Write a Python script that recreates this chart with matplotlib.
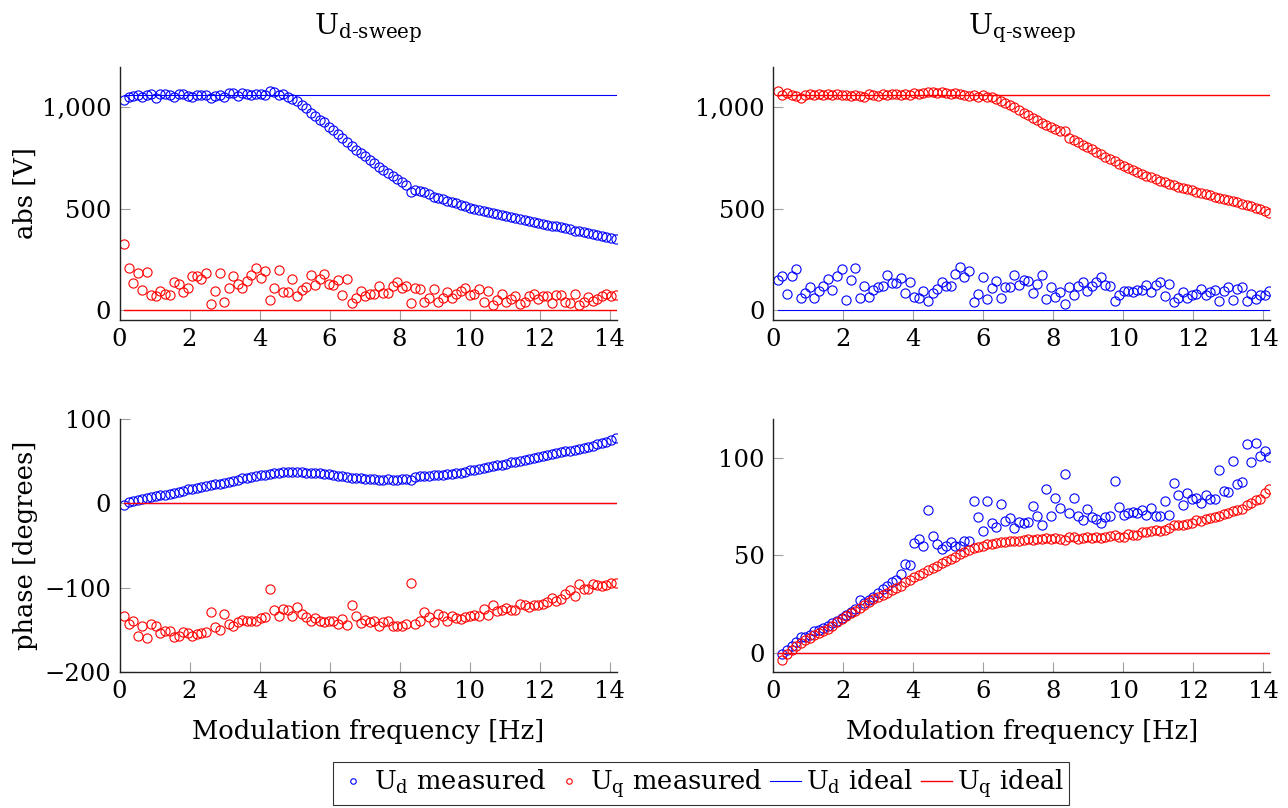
import numpy as np
import matplotlib
matplotlib.use('Agg')
import matplotlib.pyplot as plt
from matplotlib.ticker import FuncFormatter

plt.rcParams['font.family'] = ['DejaVu Serif']
plt.rcParams['mathtext.fontset'] = 'dejavuserif'

# modulation frequency grid of the sweep [Hz]
freq = np.arange(1, 110) * 0.13

UD_IDEAL_ABS = 1060
UQ_IDEAL_ABS = 1060

# d-sweep, abs [V]
d_abs_ud = [1035, 1050, 1058, 1062, 1052, 1060, 1066, 1045, 1066, 1068,
            1062, 1052, 1067, 1065, 1056, 1054, 1062, 1064, 1060, 1048,
            1058, 1060, 1050, 1072, 1070, 1056, 1072, 1068, 1060, 1068,
            1066, 1064, 1080, 1074, 1062, 1068, 1052, 1044, 1030, 1012,
            995, 975, 958, 940, 928, 905, 888, 870, 848, 828,
            810, 792, 775, 758, 742, 726, 708, 692, 677, 660,
            645, 630, 618, 582, 592, 588, 580, 572, 560, 554,
            547, 540, 534, 527, 520, 514, 502, 500, 494, 490,
            484, 478, 472, 467, 462, 458, 452, 448, 443, 438,
            434, 428, 422, 419, 415, 412, 408, 404, 400, 392,
            388, 385, 380, 376, 370, 365, 360, 355, 348]
d_abs_uq = [326, 206, 132, 184, 99, 186, 71, 67, 95, 79,
            75, 140, 127, 86, 107, 169, 169, 151, 181, 30,
            94, 181, 38, 107, 169, 127, 107, 143, 173, 209,
            156, 192, 49, 110, 197, 90, 90, 153, 69, 99,
            115, 173, 123, 153, 176, 127, 123, 148, 75, 151,
            33, 58, 95, 68, 80, 77, 120, 82, 82, 120,
            137, 107, 118, 33, 107, 102, 38, 58, 104, 41,
            58, 90, 61, 79, 95, 107, 74, 79, 104, 38,
            94, 25, 49, 79, 41, 54, 69, 30, 38, 69,
            79, 54, 69, 69, 33, 71, 71, 38, 36, 79,
            25, 41, 62, 46, 54, 69, 79, 69, 71]

# q-sweep, abs [V]
q_abs_ud = [148, 169, 76, 168, 201, 58, 82, 115, 61, 94,
            120, 153, 99, 168, 202, 48, 148, 206, 61, 118,
            63, 99, 115, 118, 174, 132, 132, 158, 82, 138,
            63, 58, 95, 44, 81, 104, 140, 120, 120, 176,
            212, 161, 191, 39, 77, 161, 53, 109, 141, 59,
            112, 114, 174, 125, 148, 145, 82, 127, 174, 54,
            112, 63, 90, 30, 112, 72, 120, 137, 95, 120,
            137, 164, 123, 120, 44, 74, 95, 95, 86, 99,
            99, 123, 87, 123, 140, 69, 127, 38, 58, 87,
            61, 74, 80, 102, 74, 90, 99, 46, 92, 112,
            49, 102, 112, 46, 79, 53, 74, 74, 94]
q_abs_uq = [1082, 1060, 1070, 1062, 1058, 1048, 1064, 1066, 1062, 1066,
            1064, 1066, 1062, 1066, 1060, 1062, 1056, 1064, 1058, 1052,
            1066, 1060, 1056, 1068, 1064, 1068, 1066, 1064, 1068, 1062,
            1070, 1068, 1072, 1076, 1074, 1072, 1076, 1070, 1068, 1070,
            1066, 1064, 1058, 1062, 1052, 1062, 1050, 1052, 1040, 1030,
            1022, 1010, 1000, 985, 975, 962, 950, 940, 925, 912,
            902, 893, 882, 884, 850, 840, 828, 815, 805, 795,
            780, 768, 755, 745, 735, 722, 712, 700, 690, 680,
            672, 663, 655, 646, 638, 630, 623, 615, 608, 603,
            597, 590, 583, 577, 571, 565, 560, 555, 549, 543,
            537, 531, 524, 518, 512, 505, 498, 490, 478]

# d-sweep, phase [degrees]
d_ph_ud = [-2, 2, 3, 4.5, 5.5, 6.5, 7.5, 8.5, 9.5, 10.5,
           11.5, 12.5, 14, 15, 16.5, 17.5, 18.5, 19.5, 20.5, 21.5,
           22.5, 23.5, 24.5, 25.5, 27, 28, 29.5, 30.5, 31.5, 32.5,
           33.5, 34, 35, 36, 36.5, 37, 37, 37, 37, 37,
           36.5, 36.5, 36, 35.5, 35, 34.5, 33.5, 33, 32, 31,
           30.5, 30, 29.5, 29, 28.5, 28.5, 28, 28, 28.5, 28,
           28, 28.5, 29, 28, 31.5, 32.5, 33, 33, 33.5, 34,
           34, 34.5, 35, 35.5, 36, 37.5, 39, 40, 41, 42,
           43, 44.5, 45.5, 46, 47, 48.5, 49, 50.5, 52, 52.5,
           53.5, 54.5, 56.5, 57.5, 58.5, 59.5, 60.5, 61.5, 62.5, 63.5,
           65, 66, 67, 68.5, 70, 71.5, 73, 75.5, 78]
d_ph_uq = [-134, -143, -139, -157, -145, -160, -143, -145, -154, -151,
           -151, -158, -157, -153, -154, -157, -155, -154, -153, -129,
           -147, -150, -131, -143, -145, -141, -138, -140, -140, -140,
           -136, -135, -102, -127, -134, -125, -126, -134, -123, -131,
           -135, -139, -136, -140, -141, -140, -140, -143, -137, -144,
           -121, -133, -142, -138, -141, -140, -145, -141, -140, -146,
           -145, -145, -143, -94, -143, -140, -129, -135, -141, -131,
           -133, -139, -134, -136, -137, -135, -133, -132, -133, -125,
           -132, -120, -128, -127, -124, -126, -127, -119, -121, -123,
           -121, -120, -119, -117, -112, -116, -113, -108, -103, -110,
           -96, -101, -102, -96, -97, -98, -97, -95, -94]

# q-sweep, phase [degrees]
q_ph_ud = [np.nan, -1, 1.5, 3.5, 5.5, 8, 8, 9, 11, 11.5,
           12.5, 13.5, 15, 16, 17.5, 19.5, 21, 22.5, 27, 25.5,
           27, 28.5, 30.5, 32.5, 34, 36, 37.5, 40.5, 45.6, 45.1,
           56.3, 58.3, 54.6, 73.3, 59.7, 55.8, 53.2, 54.9, 56.6, 54.9,
           54.6, 57.5, 57.5, 78.1, 69.4, 62.6, 77.9, 66.5, 64.3, 76.4,
           67.7, 69, 63.9, 67.3, 66.5, 67.3, 75.5, 70.4, 65.6, 84,
           70.2, 79.3, 74.5, 91.7, 71.6, 79.6, 70.2, 68.2, 73.6, 69.6,
           68.5, 66.8, 69.6, 70.4, 88.1, 74.7, 70.7, 71.6, 72.4, 71.6,
           73, 70.7, 74.1, 70.2, 70.2, 78.1, 70.7, 87.2, 81, 75.7,
           81.8, 78.7, 79.6, 76.7, 80.8, 78.7, 79.1, 93.7, 83.2, 82.7,
           98.3, 86.4, 87.8, 107.3, 97.8, 107.7, 101.2, 103.6, 100.5]
q_ph_uq = [np.nan, -3.6, -0.5, 1.5, 3.5, 5, 6.5, 7.6, 9, 10,
           11, 12.3, 13.8, 15.5, 17, 19, 20.3, 21.5, 23, 24.5,
           26, 27.5, 28.6, 29.8, 30.8, 32, 33, 34.3, 36.5, 37.5,
           38.6, 39.8, 41, 42.2, 43.4, 44.6, 45.8, 47, 48.2, 49.3,
           50.5, 51.5, 52.5, 53.5, 54.3, 55, 55.6, 56, 56.4, 56.8,
           56.6, 57.2, 57.5, 57.3, 57.9, 58.1, 57.8, 58.5, 58.3, 58.8,
           58.4, 58.7, 58.6, 58, 59.4, 59.6, 58.5, 59, 59.3, 59,
           59.2, 59, 59.5, 59.8, 60.3, 59.6, 59.5, 61, 60.2, 60.5,
           61.8, 62.2, 62.4, 63, 62.5, 63.2, 63.8, 65.5, 65.5, 65.8,
           66, 66.8, 68.3, 67.5, 68.6, 69.2, 69.8, 70.3, 71, 71.8,
           72.5, 73.3, 74, 76, 77, 78.2, 79, 82, 84]

BLUE = '#0000ff'
RED = '#ff0000'
FS_TICK = 17.5
FS = 18.5


def style_axis(ax, ylim, yticks):
    ax.set_xlim(0, 14.2)
    ax.set_ylim(*ylim)
    ax.set_xticks(range(0, 15, 2))
    ax.set_yticks(yticks)
    for side in ['top', 'right']:
        ax.spines[side].set_visible(False)
    for side in ['left', 'bottom']:
        ax.spines[side].set_linewidth(1.0)
        ax.spines[side].set_color('#222222')
    ax.tick_params(direction='in', length=7, width=0.8, color='#a0a0a0',
                   labelsize=FS_TICK, pad=6, top=False, right=False)


def draw(ax, ud, uq, ud_ideal, uq_ideal):
    ax.plot(freq, ud, 'o', mfc='none', mec=BLUE, ms=6.6, mew=0.8,
            label=r'U$_\mathrm{d}$ measured')
    ax.plot(freq, uq, 'o', mfc='none', mec=RED, ms=6.6, mew=0.8,
            label=r'U$_\mathrm{q}$ measured')
    ax.plot(freq, np.full_like(freq, ud_ideal), color=BLUE, lw=0.8,
            label=r'U$_\mathrm{d}$ ideal')
    ax.plot(freq, np.full_like(freq, uq_ideal), color=RED, lw=1.0,
            label=r'U$_\mathrm{q}$ ideal')


fig = plt.figure(figsize=(12.88, 8.08), dpi=100)
ax_tl = fig.add_axes([0.0928, 0.6040, 0.3859, 0.3131])
ax_tr = fig.add_axes([0.6004, 0.6040, 0.3859, 0.3131])
ax_bl = fig.add_axes([0.0928, 0.1683, 0.3859, 0.3131])
ax_br = fig.add_axes([0.6004, 0.1683, 0.3859, 0.3131])

draw(ax_tl, d_abs_ud, d_abs_uq, UD_IDEAL_ABS, 0)
draw(ax_tr, q_abs_ud, q_abs_uq, 0, UQ_IDEAL_ABS)
draw(ax_bl, d_ph_ud, d_ph_uq, 0, 0)
draw(ax_br, q_ph_ud, q_ph_uq, 0, 0)

comma = FuncFormatter(lambda v, p: '{:,.0f}'.format(v))
for ax in [ax_tl, ax_tr]:
    style_axis(ax, (-50, 1200), [0, 500, 1000])
    ax.yaxis.set_major_formatter(comma)
style_axis(ax_bl, (-200, 100), [-200, -100, 0, 100])
style_axis(ax_br, (-10, 120), [0, 50, 100])

ax_tl.text(0.5, 1.154, 'U$_\\mathrm{d\u2010sweep}$', transform=ax_tl.transAxes,
           ha='center', va='center', fontsize=20.5)
ax_tr.text(0.5, 1.154, 'U$_\\mathrm{q\u2010sweep}$', transform=ax_tr.transAxes,
           ha='center', va='center', fontsize=20.5)

ax_tl.set_ylabel('abs [V]', fontsize=FS)
ax_tl.yaxis.set_label_coords(-0.165, 0.5)
ax_bl.set_ylabel('phase [degrees]', fontsize=FS)
ax_bl.yaxis.set_label_coords(-0.165, 0.5)
for ax in [ax_bl, ax_br]:
    ax.set_xlabel('Modulation frequency [Hz]', fontsize=FS)
    ax.xaxis.set_label_coords(0.5, -0.185)

handles, labels = ax_tl.get_legend_handles_labels()
leg = fig.legend(handles, labels, loc='center', bbox_to_anchor=(0.5443, 0.0303),
                 ncol=4, fontsize=FS, frameon=True, fancybox=False,
                 edgecolor='black', handlelength=1.2, handletextpad=0.2,
                 columnspacing=0.3, borderpad=0.2, borderaxespad=0,
                 markerscale=0.6)
leg.get_frame().set_linewidth(0.8)

fig.savefig('out.png', dpi=100)
